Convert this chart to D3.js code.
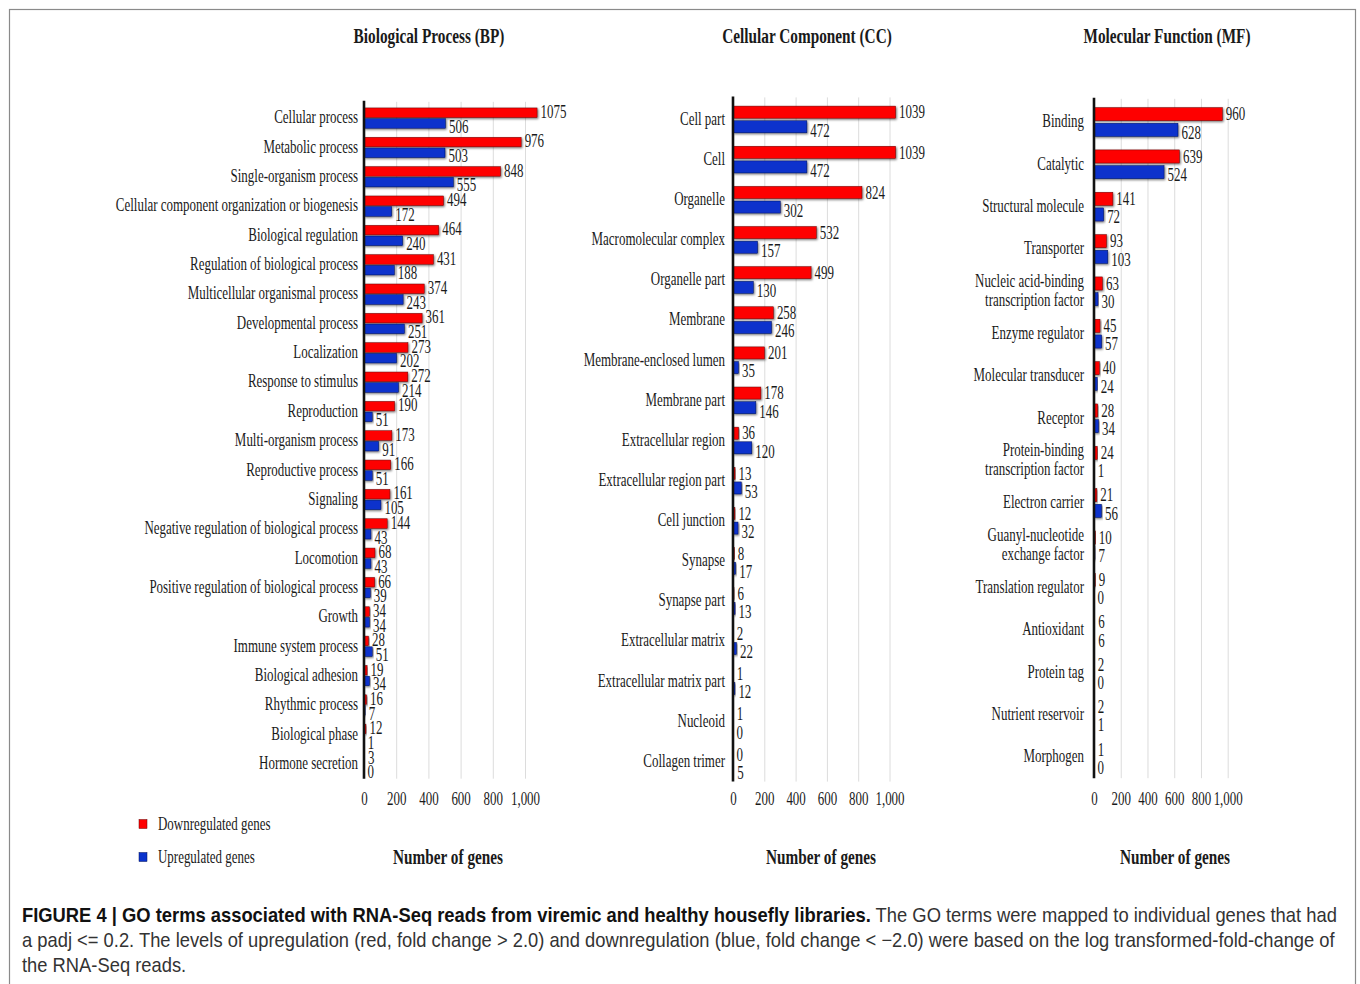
<!DOCTYPE html>
<html>
<head>
<meta charset="utf-8">
<script src="https://cdn.jsdelivr.net/npm/d3@7"></script>
<style>
  html, body { margin: 0; padding: 0; background: #fff; }
  svg { display: block; }
</style>
</head>
<body>
<svg id="fig" width="1360" height="984"></svg>
<script>
// ---- GO term counts (downregulated / upregulated genes) ----
const bpTerms = [
  "Cellular process", "Metabolic process", "Single-organism process",
  "Cellular component organization or biogenesis", "Biological regulation",
  "Regulation of biological process", "Multicellular organismal process",
  "Developmental process", "Localization", "Response to stimulus", "Reproduction",
  "Multi-organism process", "Reproductive process", "Signaling",
  "Negative regulation of  biological process", "Locomotion",
  "Positive regulation of  biological process", "Growth", "Immune system process",
  "Biological adhesion", "Rhythmic process", "Biological phase", "Hormone secretion"
];
const bpDown = [1075, 976, 848, 494, 464, 431, 374, 361, 273, 272, 190, 173, 166, 161, 144, 68, 66, 34, 28, 19, 16, 12, 3];
const bpUp   = [506, 503, 555, 172, 240, 188, 243, 251, 202, 214, 51, 91, 51, 105, 43, 43, 39, 34, 51, 34, 7, 1, 0];

const ccTerms = [
  "Cell part", "Cell", "Organelle", "Macromolecular complex", "Organelle part",
  "Membrane", "Membrane-enclosed lumen", "Membrane part", "Extracellular region",
  "Extracellular region part", "Cell junction", "Synapse", "Synapse part",
  "Extracellular matrix", "Extracellular matrix part", "Nucleoid", "Collagen trimer"
];
const ccDown = [1039, 1039, 824, 532, 499, 258, 201, 178, 36, 13, 12, 8, 6, 2, 1, 1, 0];
const ccUp   = [472, 472, 302, 157, 130, 246, 35, 146, 120, 53, 32, 17, 13, 22, 12, 0, 5];

const mfTerms = [
  "Binding", "Catalytic", "Structural molecule", "Transporter",
  "Nucleic acid-binding\ntranscription factor", "Enzyme regulator",
  "Molecular transducer", "Receptor", "Protein-binding\ntranscription factor",
  "Electron carrier", "Guanyl-nucleotide\nexchange factor", "Translation regulator",
  "Antioxidant", "Protein tag", "Nutrient reservoir", "Morphogen"
];
const mfDown = [960, 639, 141, 93, 63, 45, 40, 28, 24, 21, 10, 9, 6, 2, 2, 1];
const mfUp   = [628, 524, 72, 103, 30, 57, 24, 34, 1, 56, 7, 0, 6, 0, 1, 0];

const tickValues = [0, 200, 400, 600, 800, 1000];
const seriesNames = ["Downregulated genes", "Upregulated genes"];
const panelTitles = ["Biological Process (BP)", "Cellular Component (CC)", "Molecular Function (MF)"];
const axisTitle = "Number of genes";

// ---- styling ----
const RED = "#fe0000", BLUE = "#0a32cc";
const SERIF = "'Liberation Serif', 'Times New Roman', serif";
const SANS = "'Liberation Sans', Arial, sans-serif";
const FS = 18;              // base label size
const K = 0.72;             // horizontal squeeze for the condensed serif look
const svg = d3.select("#fig");

const defs = svg.append("defs");
const f = defs.append("filter").attr("id", "shadow")
  .attr("x", "-20%").attr("y", "-40%").attr("width", "140%").attr("height", "200%");
f.append("feDropShadow").attr("dx", 1).attr("dy", 1.2)
  .attr("stdDeviation", 0.8).attr("flood-color", "#000").attr("flood-opacity", 0.55);

// outer frame
svg.append("rect").attr("x", 9.5).attr("y", 9.5).attr("width", 1346).attr("height", 1000)
  .attr("fill", "none").attr("stroke", "#8a8a8a").attr("stroke-width", 1.2);

// text helper: placed by transform, squeezed horizontally
function label(parent, x, y, str, opts = {}) {
  return parent.append("text")
    .attr("transform", `translate(${x},${y}) scale(${opts.k ?? K},1)`)
    .attr("text-anchor", opts.anchor || "start")
    .attr("dominant-baseline", opts.baseline || "central")
    .attr("font-family", opts.family || SERIF)
    .attr("font-size", opts.size || FS)
    .attr("font-weight", opts.weight || "normal")
    .attr("fill", opts.fill || "#1a1a1a")
    .text(str);
}

const panels = [
  { terms: bpTerms, down: bpDown, up: bpUp, x0: 364, x1000: 525, y0: 103.8, y1: 778.7, shift: -0.4,
    labelGap: 6, title: panelTitles[0], titleX: 429, axTitleX: 448, barFrac: 0.325, gapFrac: 0.04,
    redOff: -1, blueOff: 3 },
  { terms: ccTerms, down: ccDown, up: ccUp, x0: 733, x1000: 889.5, y0: 99.4, y1: 781.6, shift: 0,
    labelGap: 8, title: panelTitles[1], titleX: 807, axTitleX: 821, barFrac: 0.30, gapFrac: 0.065,
    redOff: 0, blueOff: 3.5 },
  { terms: mfTerms, down: mfDown, up: mfUp, x0: 1094, x1000: 1227.7, y0: 100.8, y1: 778.2, shift: 0,
    labelGap: 10, title: panelTitles[2], titleX: 1167, axTitleX: 1175, barFrac: 0.31, gapFrac: 0.06,
    redOff: 0, blueOff: 2.5 }
];

panels.forEach(p => {
  const g = svg.append("g");
  const x = d3.scaleLinear().domain([0, 1000]).range([p.x0, p.x1000]);
  const y = d3.scaleBand().domain(p.terms).range([p.y0, p.y1]).paddingInner(0);
  const step = y.step();
  const bh = step * p.barFrac, gap = step * p.gapFrac;
  const ctr = d => y(d) + step / 2 + p.shift;

  // gridlines
  g.append("g")
    .attr("transform", `translate(0,${p.y1})`)
    .call(d3.axisBottom(x).tickValues(tickValues.slice(1)).tickSize(-(p.y1 - p.y0 + 2)).tickFormat(""))
    .call(a => a.select(".domain").remove())
    .call(a => a.selectAll("line").attr("stroke", "#dcdcdc").attr("stroke-width", 1));

  // tick labels
  g.append("g")
    .attr("transform", `translate(0,790)`)
    .call(d3.axisBottom(x).tickValues(tickValues).tickSize(0).tickPadding(2).tickFormat(d3.format(",")))
    .call(a => a.select(".domain").remove())
    .call(a => a.selectAll("text")
      .attr("font-family", SERIF).attr("font-size", FS).attr("fill", "#1a1a1a")
      .attr("transform", `scale(${K},1)`));

  // bars
  const rows = p.terms.map((t, i) => ({ term: t, down: p.down[i], up: p.up[i] }));
  g.append("g").selectAll("rect").data(rows).join("rect")
    .attr("x", x(0)).attr("y", d => ctr(d.term) - gap / 2 - bh)
    .attr("width", d => x(d.down) - x(0)).attr("height", bh)
    .attr("fill", RED).attr("stroke", "#6a0000").attr("stroke-width", 0.5)
    .attr("filter", "url(#shadow)");
  g.append("g").selectAll("rect").data(rows).join("rect")
    .attr("x", x(0)).attr("y", d => ctr(d.term) + gap / 2)
    .attr("width", d => x(d.up) - x(0)).attr("height", bh)
    .attr("fill", BLUE).attr("stroke", "#00105a").attr("stroke-width", 0.5)
    .attr("filter", "url(#shadow)");

  // value labels
  rows.forEach(d => {
    const c = ctr(d.term);
    label(g, x(d.down) + 3.5, c - gap / 2 - bh / 2 + p.redOff, String(d.down));
    label(g, x(d.up) + 3.5, c + gap / 2 + bh / 2 + p.blueOff, String(d.up));
  });

  // category labels
  rows.forEach(d => {
    const c = ctr(d.term) - 1;
    const lines = d.term.split("\n");
    lines.forEach((ln, j) => {
      const dy = (j - (lines.length - 1) / 2) * 19;
      label(g, p.x0 - p.labelGap, c + dy, ln, { anchor: "end" });
    });
  });

  // vertical axis line
  g.append("line").attr("x1", p.x0).attr("x2", p.x0).attr("y1", p.y0 - 3).attr("y2", p.y1)
    .attr("stroke", "#111").attr("stroke-width", 2.6);

  // titles
  label(svg, p.titleX, 35, p.title, { anchor: "middle", size: 22, weight: "bold", k: 0.695 });
  label(svg, p.axTitleX, 856, axisTitle, { anchor: "middle", size: 22, weight: "bold", k: 0.695 });
});

// legend
const legend = svg.append("g");
[[RED, "#6a0000"], [BLUE, "#00105a"]].forEach(([c, s], i) => {
  const yy = 824 + i * 33;
  legend.append("rect").attr("x", 139).attr("y", yy - 4.5).attr("width", 8).attr("height", 9)
    .attr("fill", c).attr("stroke", s).attr("stroke-width", 0.5);
  label(legend, 158, yy, seriesNames[i]);
});

// caption
const cap = svg.append("g");
function capLine(y, parts, targetW, kFixed) {
  const t = cap.append("text").attr("font-family", SANS).attr("font-size", 20);
  parts.forEach(([s, bold]) => t.append("tspan").attr("font-weight", bold ? "bold" : "normal")
    .attr("fill", bold ? "#111" : "#333").text(s));
  const w = t.node().getComputedTextLength();
  const k = kFixed ?? targetW / w;
  t.attr("transform", `translate(22,${y}) scale(${k},1)`);
  return k;
}
capLine(922, [["FIGURE 4 | GO terms associated with RNA-Seq reads from viremic and healthy housefly libraries.", true],
              [" The GO terms were mapped to individual genes that had", false]], 1316);
const k2 = capLine(947, [["a padj <= 0.2. The levels of upregulation (red, fold change > 2.0) and downregulation (blue, fold change < \u22122.0) were based on the log transformed-fold-change of", false]], 1313);
capLine(972, [["the RNA-Seq reads.", false]], null, k2);
</script>
</body>
</html>
